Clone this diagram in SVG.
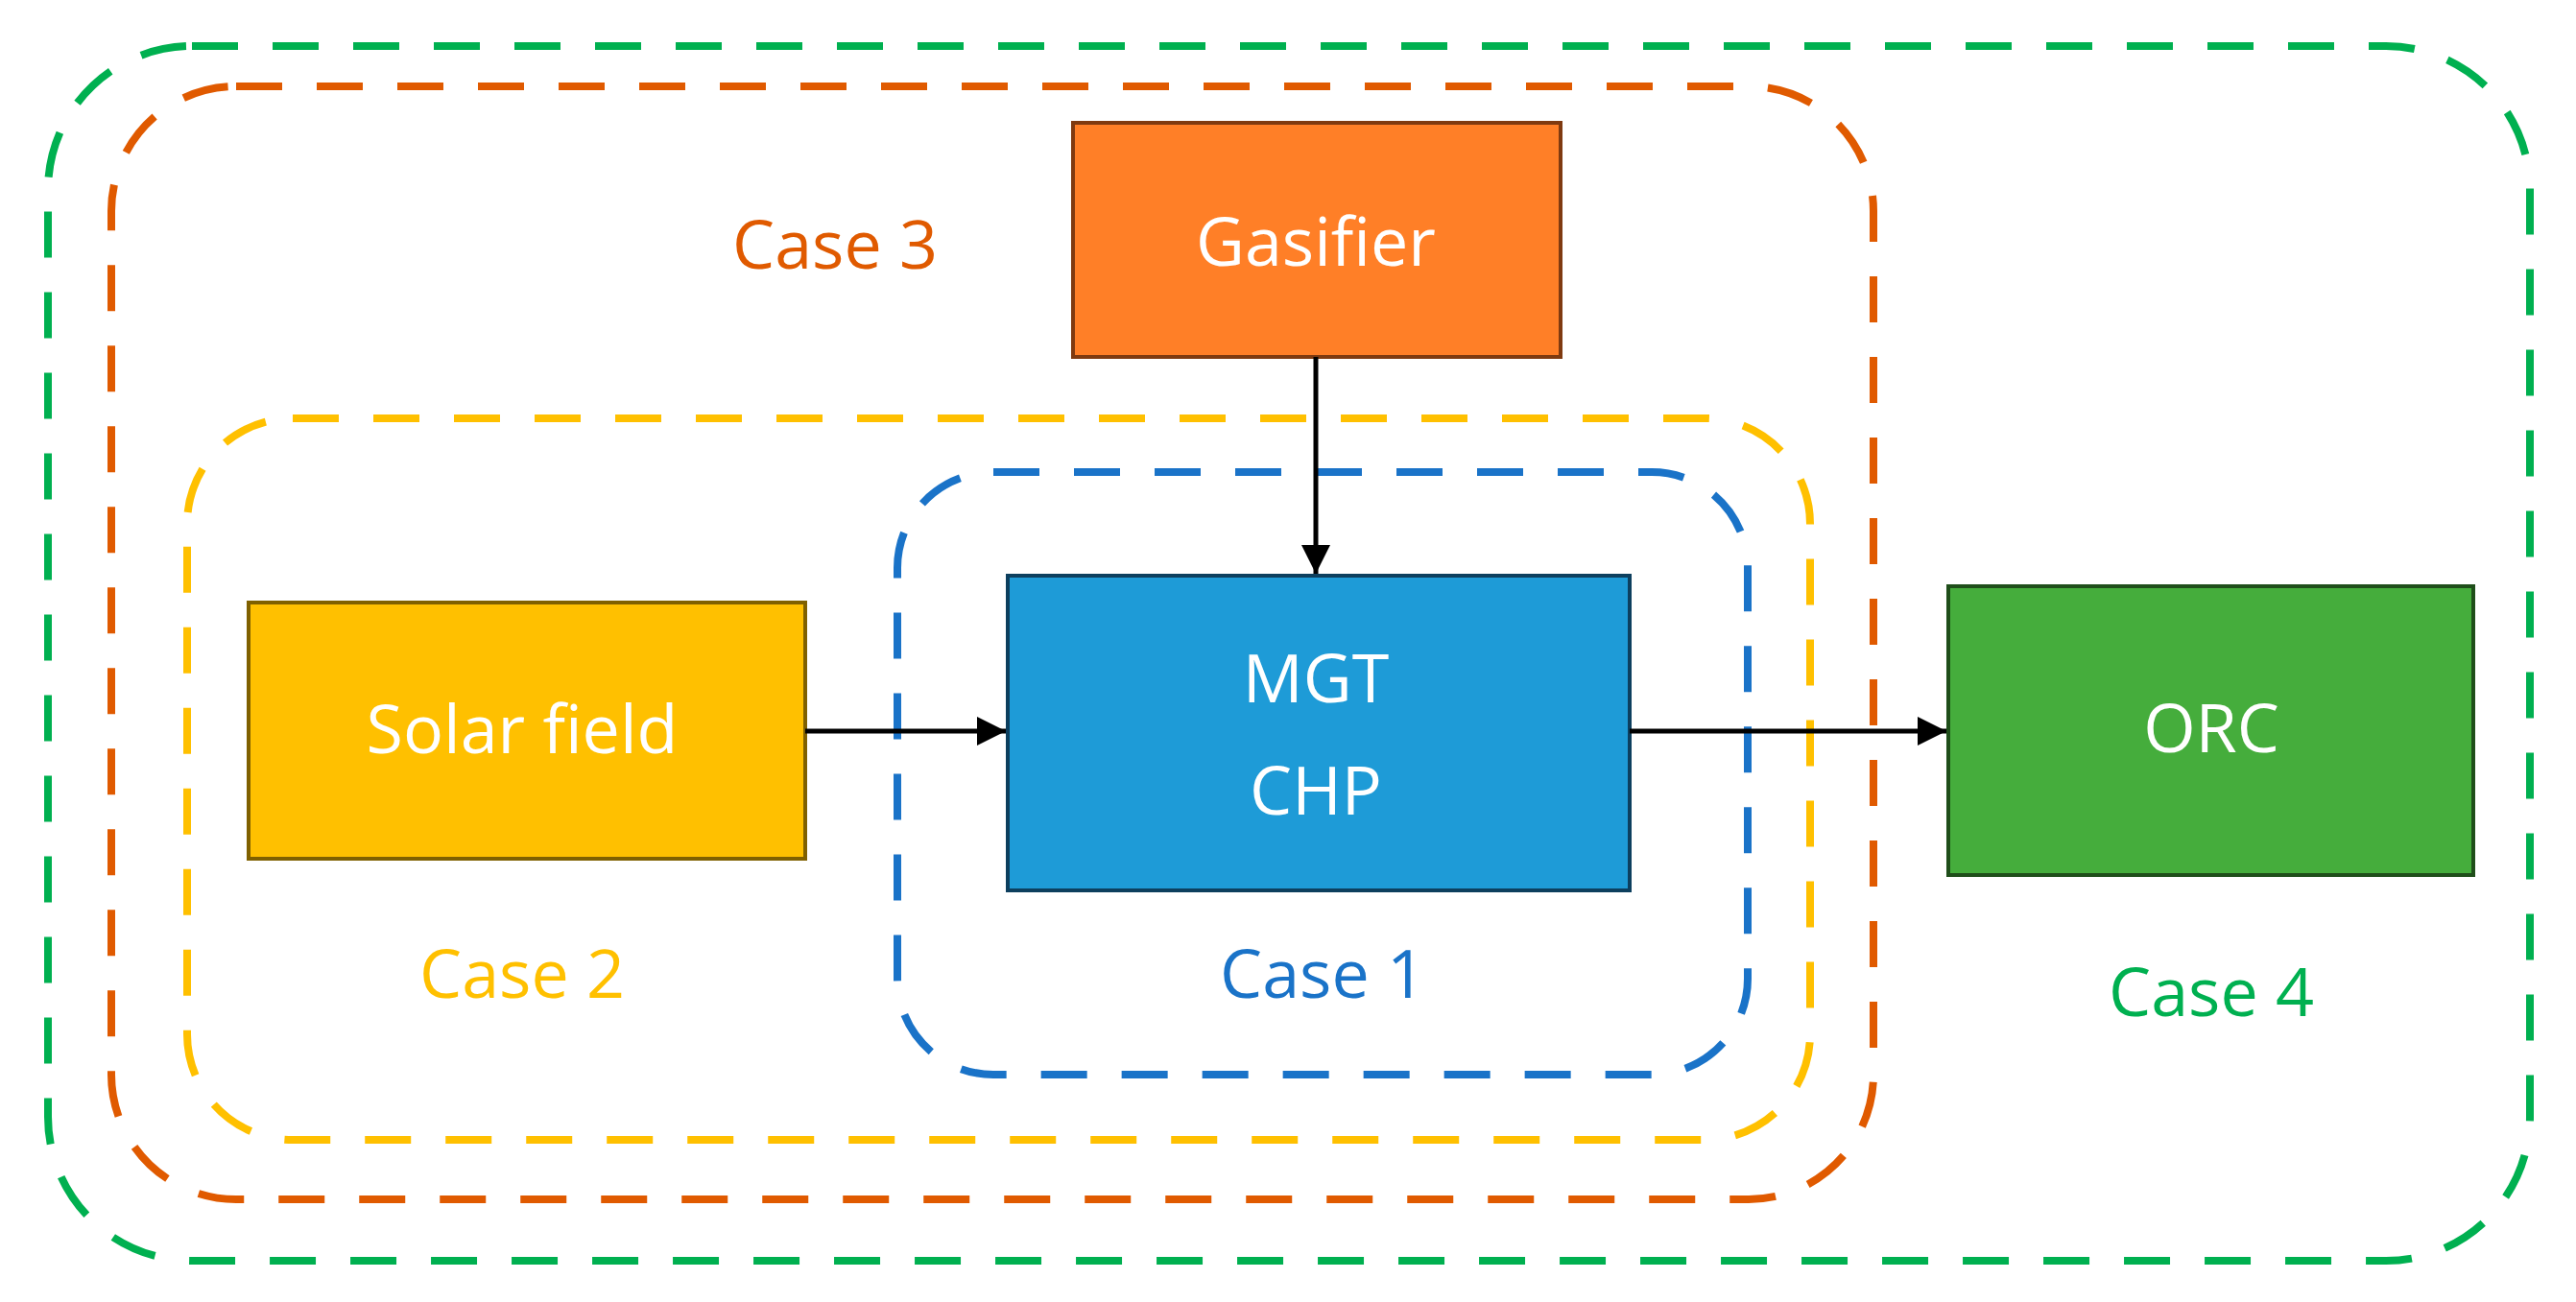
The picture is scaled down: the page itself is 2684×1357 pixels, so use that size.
<svg xmlns="http://www.w3.org/2000/svg" width="2684" height="1357" viewBox="0 0 2684 1357">
<style>
.b{fill:none;stroke-width:8;stroke-dasharray:48 36}
.n{stroke-width:4}
.t{font-family:"Open Sans","Liberation Sans",sans-serif;font-size:70px;text-anchor:middle;dominant-baseline:central}
.w{fill:#fff}
.c{stroke:#000;stroke-width:5;fill:none;marker-end:url(#a)}
</style>
<defs><marker id="a" markerWidth="8" markerHeight="8" refX="7" refY="4" orient="auto" markerUnits="userSpaceOnUse" viewBox="0 0 8 8"><path d="M0,0 L8,4 L0,8z" fill="#000" transform="scale(1)"/></marker></defs>
<defs><marker id="a2" viewBox="0 0 10 10" refX="10" refY="5" markerWidth="30" markerHeight="30" markerUnits="userSpaceOnUse" orient="auto"><path d="M0,0 L10,5 L0,10z" fill="#000"/></marker></defs>
<g id="case4"><rect class="b" x="50" y="48" width="2586" height="1266" rx="150" stroke="#00B050"/><text class="t" x="2304" y="1032" fill="#00B050">Case 4</text></g>
<g id="case3"><rect class="b" x="116" y="90" width="1836" height="1160" rx="130" stroke="#E05A00"/><text class="t" x="870" y="253" fill="#E05A00">Case 3</text></g>
<g id="case2"><rect class="b" x="195" y="436" width="1691" height="752" rx="110" stroke="#FFC000"/><text class="t" x="544" y="1013" fill="#FFC000">Case 2</text></g>
<g id="case1"><rect class="b" x="935" y="492" width="886" height="628" rx="100" stroke="#1A73C8"/><text class="t" x="1378" y="1013" fill="#1A73C8">Case 1</text></g>
<g id="gasifier"><rect class="n" x="1118" y="128" width="508" height="244" fill="#FF7F27" stroke="#7F3A10"/><text class="t w" x="1371" y="250">Gasifier</text></g>
<g id="solar"><rect class="n" x="259" y="628" width="580" height="267" fill="#FFC000" stroke="#7F6000"/><text class="t w" x="544" y="758">Solar field</text></g>
<g id="mgt"><rect class="n" x="1050" y="600" width="648" height="328" fill="#1E9BD7" stroke="#0D3F5E"/><text class="t w" x="1371" y="705">MGT</text><text class="t w" x="1371" y="822">CHP</text></g>
<g id="orc"><rect class="n" x="2030" y="611" width="547" height="301" fill="#45AD3C" stroke="#1F4E1A"/><text class="t w" x="2304" y="757">ORC</text></g>
<g id="connectors">
<path d="M1371 372 V598" stroke="#000" stroke-width="5" fill="none" marker-end="url(#a2)"/>
<path d="M839 762 H1048" stroke="#000" stroke-width="5" fill="none" marker-end="url(#a2)"/>
<path d="M1698 762 H2028" stroke="#000" stroke-width="5" fill="none" marker-end="url(#a2)"/>
</g>
</svg>
